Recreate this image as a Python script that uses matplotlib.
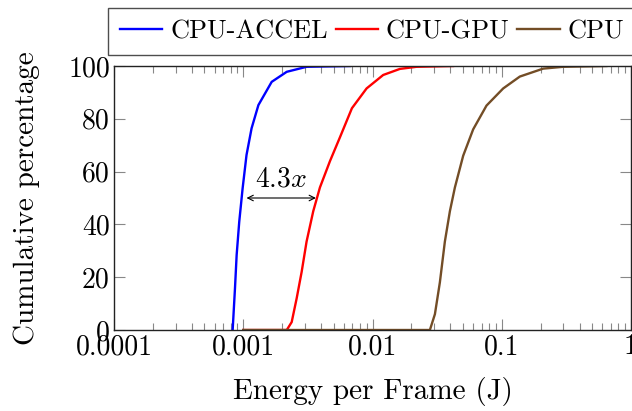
import matplotlib
matplotlib.use("Agg")
import matplotlib.pyplot as plt
from matplotlib.ticker import FixedLocator, FixedFormatter, LogLocator, NullFormatter

plt.rcParams['font.family'] = 'serif'
plt.rcParams['font.serif'] = ['cmr10', 'DejaVu Serif']
plt.rcParams['mathtext.fontset'] = 'cm'
plt.rcParams['axes.unicode_minus'] = False

# CDF of energy per frame (J) vs cumulative percentage
accel_x = [0.000828, 0.000863, 0.000889, 0.000931, 0.000989, 0.00106, 0.00116,
           0.00131, 0.00166, 0.00217, 0.00309, 0.00668]
accel_y = [0, 15.8, 28.4, 41, 53.7, 66.3, 76.4, 85.2, 94, 97.8, 99.7, 100]

gpu_x = [0.001, 0.00217, 0.00237, 0.00259, 0.00283, 0.00309, 0.00348, 0.00392,
         0.00469, 0.0056, 0.00693, 0.009, 0.0121, 0.0163, 0.0219, 0.042]
gpu_y = [0, 0, 3, 12, 22, 33.5, 45, 54, 64, 73, 84, 91.5, 96.6, 98.9, 99.7, 100]

cpu_x = [0.001, 0.0278, 0.0304, 0.0332, 0.0363, 0.0397, 0.0434, 0.0503, 0.0601,
         0.0762, 0.1026, 0.138, 0.209, 0.298, 0.645]
cpu_y = [0, 0, 6, 18, 33.5, 45, 54, 66, 76, 85, 91.5, 96, 99, 99.7, 100]

xticks = [0.0001, 0.001, 0.01, 0.1, 1]
xtick_labels = ['0.0001', '0.001', '0.01', '0.1', '1']
yticks = [0, 20, 40, 60, 80, 100]

fig = plt.figure(figsize=(6.32, 4.11), dpi=100)
ax = fig.add_axes([114 / 632, 1 - 330 / 411, 517 / 632, 264 / 411])

brown = '#734d26'
l1, = ax.plot(accel_x, accel_y, color='#0000ff', lw=1.7, label='CPU-ACCEL')
l2, = ax.plot(gpu_x, gpu_y, color='#ff0000', lw=1.7, label='CPU-GPU')
l3, = ax.plot(cpu_x, cpu_y, color=brown, lw=1.7, label='CPU')

ax.set_xscale('log')
ax.set_xlim(0.0001, 1)
ax.set_ylim(0, 100)
ax.xaxis.set_major_locator(FixedLocator(xticks))
ax.xaxis.set_major_formatter(FixedFormatter(xtick_labels))
ax.xaxis.set_minor_locator(LogLocator(base=10, subs=range(2, 10)))
ax.xaxis.set_minor_formatter(NullFormatter())
ax.set_yticks(yticks)

ax.tick_params(which='both', direction='in', top=True, right=True,
               color='#888888', labelsize=20, pad=3)
ax.tick_params(which='major', length=8, width=0.8)
ax.tick_params(which='minor', length=5, width=0.8)
for s in ax.spines.values():
    s.set_linewidth(1.0)
    s.set_color('#222222')

ax.set_xlabel('Energy per Frame (J)', fontsize=21, labelpad=12)
ax.set_ylabel('Cumulative percentage', fontsize=21, labelpad=20)

# speedup annotation
ax.annotate('', xy=(0.00365, 50), xytext=(0.00106, 50),
            arrowprops=dict(arrowstyle='<->', color='black', lw=0.8,
                            shrinkA=0, shrinkB=0))
ax.text(0.00195, 52, r'$4.3x$', fontsize=20, ha='center', va='bottom')

leg = fig.legend(handles=[l1, l2, l3], loc='upper left',
                 bbox_to_anchor=(108 / 632, 1 - 8 / 411), ncol=3,
                 fontsize=19, frameon=True, fancybox=False,
                 handlelength=1.6, handletextpad=0.3, columnspacing=0.3,
                 borderpad=0.45, borderaxespad=0)
leg.get_frame().set_edgecolor('#222222')
leg.get_frame().set_linewidth(1.0)

fig.savefig('out.png', dpi=100)
